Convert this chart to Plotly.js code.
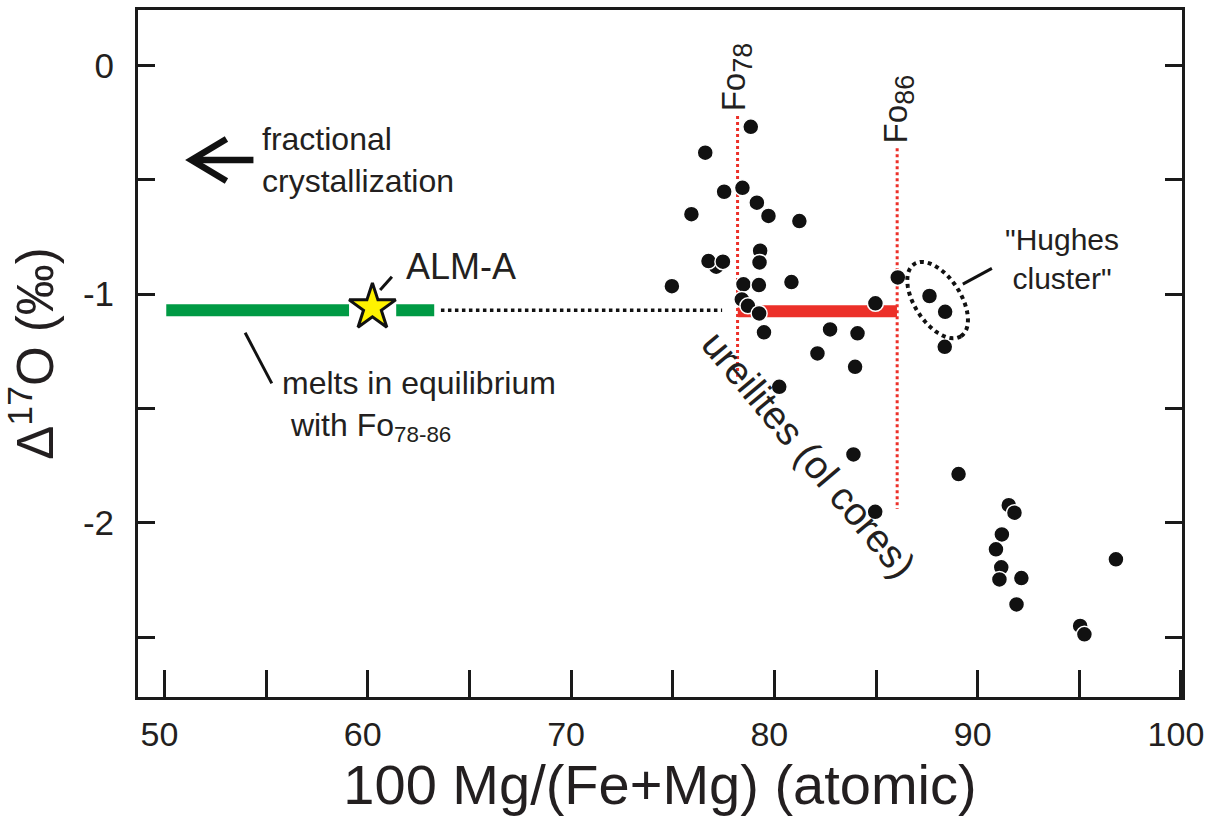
<!DOCTYPE html>
<html><head><meta charset="utf-8">
<script src="https://cdn.plot.ly/plotly-3.0.1.min.js"></script>
<style>html,body{margin:0;padding:0;background:#fff}#chart{width:1208px;height:821px}</style>
</head><body><div id="chart"></div>
<script>
// Ureilite olivine cores: 100 Mg/(Fe+Mg) vs Δ17O
const ureiliteMg = [78.84,76.60,77.53,78.43,79.14,79.71,81.23,75.92,79.30,79.27,77.14,76.76,77.47,74.96,78.48,79.24,80.84,86.07,78.40,78.70,79.25,84.97,79.49,82.74,84.09,82.12,83.97,80.24,83.89,89.06,84.96,91.53,91.81,91.19,90.90,91.16,91.07,92.15,96.80,91.91,95.04,95.25,87.63,88.40,88.38];
const ureiliteD17O = [-0.268,-0.381,-0.552,-0.535,-0.600,-0.658,-0.680,-0.650,-0.810,-0.861,-0.880,-0.855,-0.858,-0.965,-0.957,-0.960,-0.947,-0.927,-1.023,-1.051,-1.084,-1.040,-1.167,-1.154,-1.171,-1.259,-1.318,-1.405,-1.701,-1.787,-1.952,-1.923,-1.956,-2.051,-2.116,-2.195,-2.248,-2.242,-2.160,-2.357,-2.451,-2.488,-1.008,-1.077,-1.230];

// ALM-A
const almAMg = [60.23];
const almAD17O = [-1.058];

// Melts in equilibrium with Fo78-86 (green bar, two pieces around the star)
const meltMg = [50.09, 59.08, null, 61.40, 63.27];
const meltD17O = [-1.070, -1.070, null, -1.070, -1.070];

// Dotted connector
const linkMg = [63.6, 77.43];
const linkD17O = [-1.070, -1.070];

// Fo78-86 range (red bar)
const foRangeMg = [78.2, 86.03];
const foRangeD17O = [-1.075, -1.075];

// Fo78 and Fo86 reference lines
const fo78Mg = [78.19, 78.19];
const fo78D17O = [-0.221, -1.361];
const fo86Mg = [86.04, 86.04];
const fo86D17O = [-0.362, -1.940];

// Axis ticks
const xTickVals = [50, 60, 70, 80, 90, 100];
const xTickText = ['50', '60', '70', '80', '90', '100'];
const xMinorVals = [55, 65, 75, 85, 95];
const yTickVals = [0, -1, -2];
const yTickText = ['0', '-1', '-2'];
const yMinorVals = [-0.5, -1.5, -2.5];

const TXT = '#231f20';
const FONT = 'Liberation Sans, Arial, Helvetica, sans-serif';
const RED = '#ec3029';
const GREEN = '#009a44';

const traces = [
  {x: fo78Mg, y: fo78D17O, mode: 'lines', line: {color: RED, width: 3, dash: 'dot'}, hoverinfo: 'skip', showlegend: false},
  {x: fo86Mg, y: fo86D17O, mode: 'lines', line: {color: RED, width: 3, dash: 'dot'}, hoverinfo: 'skip', showlegend: false},
  {x: linkMg, y: linkD17O, mode: 'lines', line: {color: '#111', width: 3.5, dash: 'dot'}, hoverinfo: 'skip', showlegend: false},
  {x: meltMg, y: meltD17O, mode: 'lines', line: {color: GREEN, width: 12}, connectgaps: false, showlegend: false},
  {x: foRangeMg, y: foRangeD17O, mode: 'lines', line: {color: RED, width: 12}, showlegend: false},
  {x: almAMg, y: almAD17O, mode: 'markers', marker: {symbol: 'star', size: 35, color: '#fff200', line: {color: '#111', width: 3}}, showlegend: false},
  {x: ureiliteMg, y: ureiliteD17O, mode: 'markers', marker: {symbol: 'circle', size: 16, color: '#111', line: {color: '#fff', width: 1.5}}, showlegend: false}
];

// tilted ellipse around "Hughes cluster" (pixel path relative to anchor)
function ellipsePath(a, b, thetaDeg) {
  const th = thetaDeg * Math.PI / 180;
  let p = '';
  for (let i = 0; i <= 72; i++) {
    const t = i / 72 * 2 * Math.PI;
    const u = a * Math.cos(t), v = b * Math.sin(t);
    const px = u * Math.cos(th) - v * Math.sin(th);
    const py = u * Math.sin(th) + v * Math.cos(th);
    p += (i === 0 ? 'M' : 'L') + px.toFixed(2) + ',' + py.toFixed(2);
  }
  return p + 'Z';
}

const shapes = [
  {type: 'path', xref: 'x', yref: 'y', xsizemode: 'pixel', ysizemode: 'pixel', xanchor: 88.03, yanchor: -1.026,
   path: ellipsePath(43, 23, -57), line: {color: '#111', width: 4, dash: 'dot'}},
  // fractional crystallization arrow
  {type: 'path', xref: 'x', yref: 'y', xsizemode: 'pixel', ysizemode: 'pixel', xanchor: 51.23, yanchor: -0.413,
   path: 'M37,21L2,0L37,-21', line: {color: '#111', width: 6.5}},
  {type: 'path', xref: 'x', yref: 'y', xsizemode: 'pixel', ysizemode: 'pixel', xanchor: 51.23, yanchor: -0.413,
   path: 'M4,0L64,0', line: {color: '#111', width: 6.5}},
  // leader lines
  {type: 'line', xref: 'x', yref: 'y', x0: 61.19, y0: -0.924, x1: 60.61, y1: -0.982, line: {color: '#111', width: 3}},
  {type: 'line', xref: 'x', yref: 'y', x0: 53.97, y0: -1.169, x1: 55.28, y1: -1.390, line: {color: '#111', width: 3}},
  {type: 'line', xref: 'x', yref: 'y', x0: 89.27, y0: -0.956, x1: 90.70, y1: -0.887, line: {color: '#111', width: 3}}
];

const ann = (o) => Object.assign({xref: 'x', yref: 'y', showarrow: false}, o);
const f = (size) => ({family: FONT, color: TXT, size: size});
const annotations = [
  ann({x: 54.7, y: -0.413, xanchor: 'left', yanchor: 'middle', align: 'left', text: 'fractional<br>crystallization', font: f(32)}),
  ann({x: 61.8, y: -0.878, xanchor: 'left', yanchor: 'middle', text: 'ALM-A', font: f(36)}),
  ann({x: 55.7, y: -1.49, xanchor: 'left', yanchor: 'middle', align: 'left', text: 'melts in equilibrium<br> with Fo<sub>78-86</sub>', font: f(32)}),
  ann({x: 94.16, y: -0.846, xanchor: 'center', yanchor: 'middle', align: 'center', text: '"Hughes<br>cluster"', font: f(30)}),
  ann({x: 81.7, y: -1.70, xanchor: 'center', yanchor: 'middle', textangle: 50, text: 'ureilites (ol cores)', font: f(39)}),
  ann({x: 78.18, y: -0.05, xanchor: 'center', yanchor: 'middle', textangle: -90, text: 'Fo<sub><span style="font-size:27px">78</span></sub>', font: f(33)}),
  ann({x: 86.15, y: -0.19, xanchor: 'center', yanchor: 'middle', textangle: -90, text: 'Fo<sub><span style="font-size:27px">86</span></sub>', font: f(33)})
];

const layout = {
  width: 1208, height: 821,
  margin: {l: 138, r: 26, t: 10, b: 124},
  paper_bgcolor: '#fff', plot_bgcolor: '#fff',
  font: {family: FONT, color: TXT},
  showlegend: false,
  xaxis: {
    range: [48.7, 100.05], showgrid: false, zeroline: false,
    showline: true, linecolor: '#1a1a1a', linewidth: 3, mirror: true,
    ticks: 'inside', ticklen: 27, tickwidth: 3, tickcolor: '#1a1a1a',
    tickmode: 'array', tickvals: xTickVals, ticktext: xTickText,
    minor: {tickmode: 'array', tickvals: xMinorVals, ticks: 'inside', ticklen: 27, tickwidth: 3, tickcolor: '#1a1a1a', showgrid: false},
    tickfont: f(34), ticklabelstandoff: 5, ticklabelshift: -5, ticklabeloverflow: 'allow',
    title: {text: '100 Mg/(Fe+Mg) (atomic)', font: f(56), standoff: 10}
  },
  yaxis: {
    range: [-2.762, 0.243], showgrid: false, zeroline: false,
    showline: true, linecolor: '#1a1a1a', linewidth: 3, mirror: 'ticks',
    ticks: 'inside', ticklen: 17, tickwidth: 3, tickcolor: '#1a1a1a',
    tickmode: 'array', tickvals: yTickVals, ticktext: yTickText,
    minor: {tickmode: 'array', tickvals: yMinorVals, ticks: 'inside', ticklen: 17, tickwidth: 3, tickcolor: '#1a1a1a', showgrid: false},
    tickfont: f(35), ticklabelstandoff: 14,
    title: {text: 'Δ<sup>17</sup>O (‰)', font: f(51), standoff: 16}
  },
  shapes: shapes,
  annotations: annotations
};

Plotly.newPlot('chart', traces, layout, {displayModeBar: false, staticPlot: true});
</script></body></html>
